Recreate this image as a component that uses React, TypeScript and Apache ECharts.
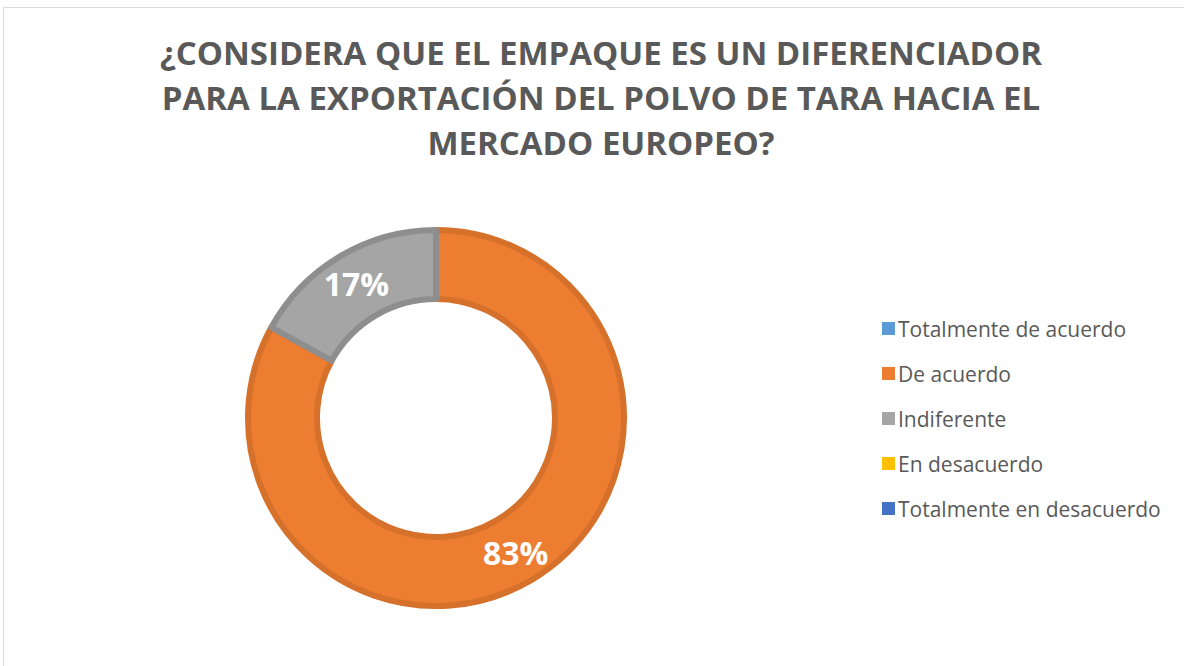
import React, { useEffect, useRef } from "react";
import * as echarts from "echarts";

const titleLines = [
  "¿CONSIDERA QUE EL EMPAQUE ES UN DIFERENCIADOR",
  "PARA LA EXPORTACIÓN DEL POLVO DE TARA HACIA EL",
  "MERCADO EUROPEO?",
];
const categories = [
  "Totalmente de acuerdo",
  "De acuerdo",
  "Indiferente",
  "En desacuerdo",
  "Totalmente en desacuerdo",
];
const values = [0, 83, 17, 0, 0];
const fillColors = ["#5B9BD5", "#ED7D31", "#A5A5A5", "#FFC000", "#4472C4"];
const borderColors = ["#4F88BC", "#D6712B", "#8E8E8E", "#E0A800", "#3C64AD"];

export default function App() {
  const ref = useRef<HTMLDivElement>(null);
  useEffect(() => {
    if (!ref.current) return;
    const chart = echarts.init(ref.current, undefined, { renderer: "svg" });
    const font = "'Open Sans', 'Noto Sans', sans-serif";
    chart.setOption({
      animation: false,
      backgroundColor: "#ffffff",
      title: {
        text: titleLines.join("\n"),
        left: 596,
        textAlign: "center",
        top: 25,
        textStyle: {
          fontFamily: font,
          fontWeight: "bold",
          fontSize: 33,
          lineHeight: 45,
          color: "#595959",
        },
      },
      legend: {
        orient: "vertical",
        left: 877,
        top: 312,
        icon: "rect",
        itemWidth: 13,
        itemHeight: 13,
        itemGap: 22,
        data: categories,
        itemStyle: { borderWidth: 0 },
        textStyle: {
          fontFamily: font,
          fontSize: 21,
          lineHeight: 23,
          color: "#595959",
          padding: [0, 0, 0, -2],
        },
      },
      graphic: [
        {
          type: "rect",
          shape: { x: 3.5, y: 7.5, width: 1200, height: 700 },
          style: { fill: "none", stroke: "#d9d9d9", lineWidth: 1 },
          silent: true,
        },
      ],
      series: [
        {
          type: "pie",
          center: [436, 418],
          radius: [119, 188],
          startAngle: 90,
          clockwise: true,
          avoidLabelOverlap: false,
          labelLine: { show: false },
          label: {
            show: true,
            position: "inside",
            formatter: (p: any) => (p.value > 0 ? Math.round(p.percent) + "%" : ""),
            color: "#ffffff",
            fontFamily: font,
            fontWeight: "bold",
            fontSize: 32,
          },
          emphasis: { disabled: true },
          data: categories.map((name, i) => ({
            name,
            value: values[i],
            itemStyle: {
              color: fillColors[i],
              borderColor: borderColors[i],
              borderWidth: values[i] > 0 ? 6 : 0,
            },
            label: { show: values[i] > 0 },
          })),
        },
      ],
    });
    return () => chart.dispose();
  }, []);
  return (
    <div
      ref={ref}
      style={{ position: "fixed", left: 0, top: 0, width: 1184, height: 666 }}
    />
  );
}
